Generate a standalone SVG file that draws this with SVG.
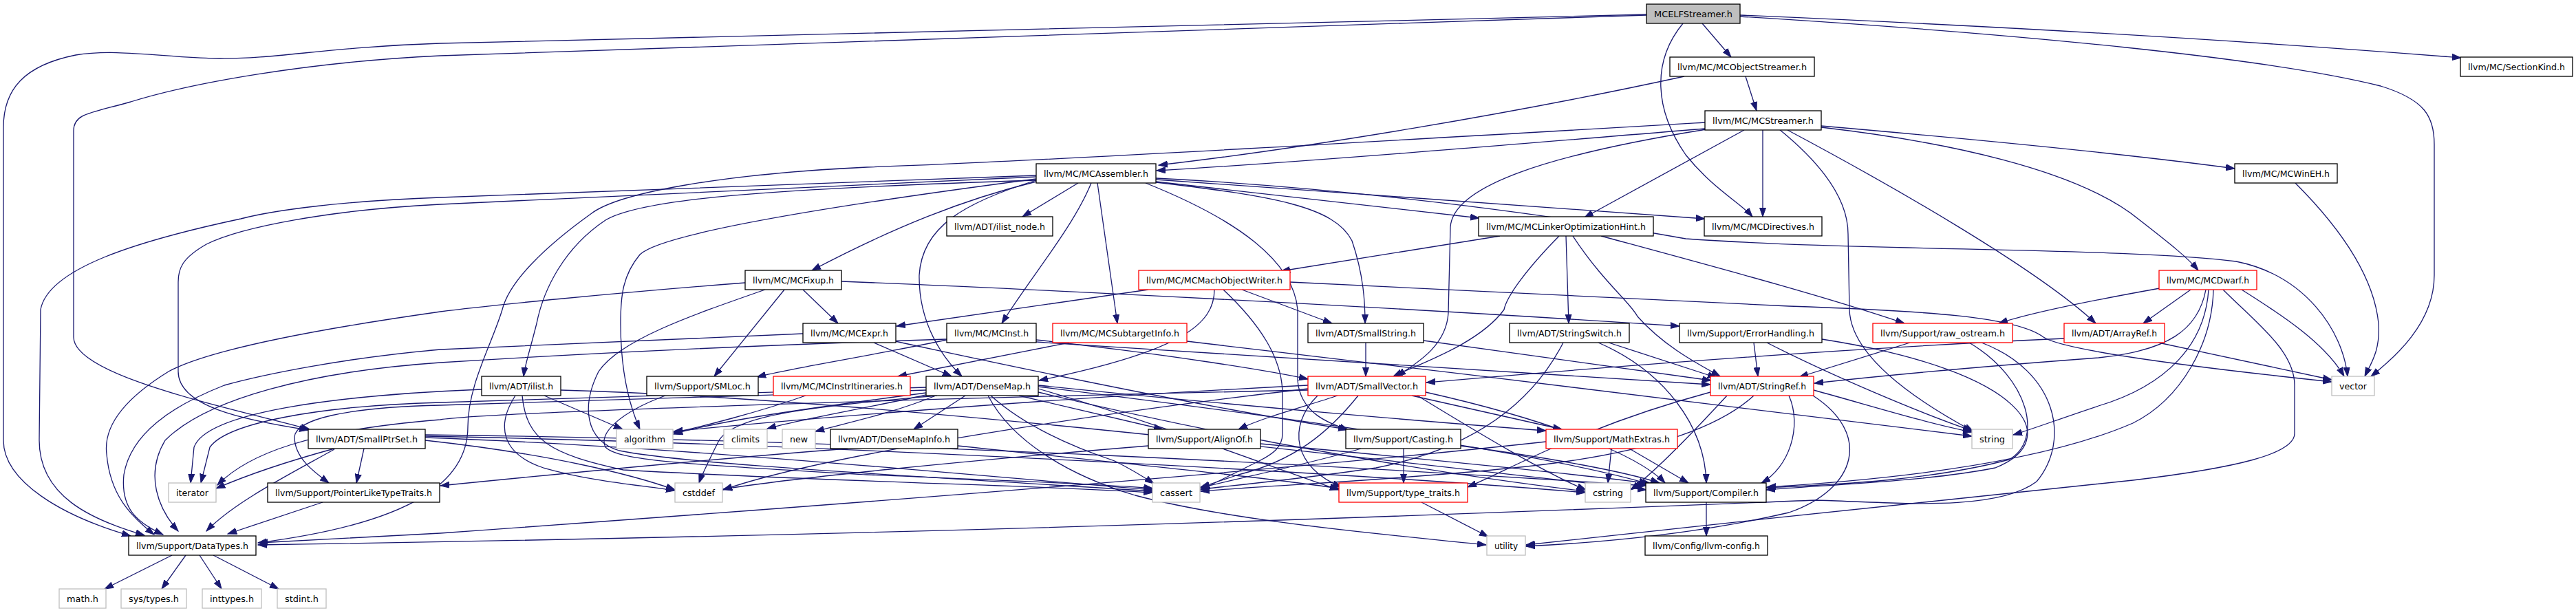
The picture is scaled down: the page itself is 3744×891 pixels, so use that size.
<svg xmlns="http://www.w3.org/2000/svg" width="3744" height="891" viewBox="0 0 3744 891">
<style>
rect{fill:#fff;stroke:#000;stroke-width:1.3}
.r rect{stroke:#f00}
.g rect{stroke:#bfbfbf}
.root rect{fill:#bfbfbf}
text{font-family:"DejaVu Sans","Liberation Sans",sans-serif;font-size:13px;fill:#000;text-anchor:middle}
#edges path{fill:none;stroke:#191970;stroke-width:1.3;marker-end:url(#a)}
</style>
<defs>
<marker id="a" markerUnits="userSpaceOnUse" markerWidth="14" markerHeight="10" refX="13" refY="5" orient="auto" viewBox="0 0 14 10">
<path d="M0,0.5 L13,5 L0,9.5 z" fill="#191970" stroke="#191970" stroke-width="1"/>
</marker>
</defs>
<rect x="0" y="0" width="3744" height="891" style="fill:#fff;stroke:none"/>
<g id="edges">
<path d="M2393,21 C1700,38 900,58 640,63 C480,68 400,86 320,85 C240,84 170,70 110,80 C35,95 5,130 5,185 L5,640 C5,700 90,750 190,779"/>
<path d="M2393,22 C1700,45 900,72 640,81 C450,90 280,120 190,148 C130,165 107,165 107,190 L107,490 C107,545 320,590 450,624"/>
<path d="M2474,34 L2516,83"/>
<path d="M2446,34 C2400,90 2405,160 2450,225 C2490,275 2530,295 2547,315"/>
<path d="M2529,22 C2950,40 3300,62 3577,84"/>
<path d="M2529,24 C2950,50 3300,85 3460,125 C3525,145 3538,170 3538,210 L3538,400 C3538,470 3480,520 3446,547"/>
<path d="M2448,111 C2200,165 1900,215 1684,240"/>
<path d="M2537,111 L2553,161"/>
<path d="M2478,187 C2200,210 1900,235 1681,248"/>
<path d="M2647,183 C2900,205 3100,225 3248,245"/>
<path d="M2535,189 L2303,316"/>
<path d="M2562,188 L2562,315"/>
<path d="M2586,188 C2650,240 2686,290 2686,340 L2688,450 C2690,520 2790,585 2868,627"/>
<path d="M2598,189 C2750,270 2960,390 3046,470"/>
<path d="M2647,185 C2820,205 3020,245 3110,320 C3155,355 3180,375 3195,393"/>
<path d="M2480,188 C2250,225 2112,270 2108,330 L2105,455 C2102,505 2055,530 2030,547"/>
<path d="M2478,178 C2100,200 1500,235 1260,243 C1050,253 900,280 860,310 C790,360 740,410 730,450 C715,500 680,560 680,620 C680,700 600,760 375,789"/>
<path d="M1567,266 L1486,315"/>
<path d="M1506,264 C1400,290 1300,330 1180,393"/>
<path d="M1586,266 C1560,330 1500,400 1456,470"/>
<path d="M1595,266 L1624,470"/>
<path d="M1506,262 C1400,295 1340,330 1336,400 C1335,470 1370,520 1398,547"/>
<path d="M1680,265 C1850,285 1940,300 1965,350 C1982,400 1984,440 1984,470"/>
<path d="M1680,264 L2150,317"/>
<path d="M1680,261 C1950,280 2300,305 2478,318"/>
<path d="M1680,259 C2000,275 2300,320 2450,347 C2700,365 3100,360 3250,380 C3350,400 3405,480 3412,547"/>
<path d="M1665,266 C1800,320 1880,380 1886,450 L1886,553 C1890,600 1930,615 1960,625"/>
<path d="M1506,260 C1200,300 960,340 930,370 C905,400 902,430 902,470 C902,540 915,590 930,624"/>
<path d="M1506,262 C1100,275 930,290 880,320 C820,360 790,420 780,470 C770,510 763,530 761,547"/>
<path d="M1506,255 C1100,270 750,283 640,287 C500,292 400,305 350,318 C200,350 70,390 59,450 L57,640 C57,720 130,755 210,778"/>
<path d="M1506,257 C1100,275 750,292 640,297 C480,305 350,330 300,355 C265,375 259,390 259,410 L259,540 C259,590 350,610 448,625"/>
<path d="M2180,343 L1862,394"/>
<path d="M2266,343 C2220,390 2190,430 2186,450 C2150,500 2060,530 2025,547"/>
<path d="M2276,343 L2280,470"/>
<path d="M2286,343 C2330,410 2370,440 2380,460 C2420,505 2470,530 2500,547"/>
<path d="M2327,343 C2500,390 2650,430 2768,470"/>
<path d="M1669,421 L1303,474"/>
<path d="M1765,421 C1765,470 1720,510 1510,553"/>
<path d="M1805,421 L1936,470"/>
<path d="M1875,410 C2200,425 2480,440 2600,445 C2800,452 2930,460 2970,490 C3000,510 3200,535 3389,555"/>
<path d="M1778,421 C1830,470 1864,520 1864,573 L1864,630 C1864,650 1850,660 1830,670 C1800,685 1770,700 1745,712"/>
<path d="M1167,421 L1218,470"/>
<path d="M1140,421 L1038,547"/>
<path d="M1112,421 C1000,460 900,495 870,540 C845,590 850,640 900,655 C1000,675 1300,690 1675,714"/>
<path d="M1223,409 C1500,420 2000,445 2441,474"/>
<path d="M1083,411 C900,425 700,445 640,453 C450,480 300,510 245,540 C180,580 150,620 155,660 C160,720 190,750 224,777"/>
<path d="M1270,498 L1383,547"/>
<path d="M1301,496 C1550,550 1800,600 1958,624"/>
<path d="M1167,485 C900,495 700,505 640,508 C500,520 380,545 326,560 C250,590 190,630 180,690 C175,740 200,760 237,777"/>
<path d="M1506,494 C1700,515 1850,540 1901,551"/>
<path d="M1506,497 C1900,525 2300,550 2486,559"/>
<path d="M1376,494 C1250,520 1150,535 1100,548"/>
<path d="M1376,493 C1000,505 750,520 640,527 C450,540 300,580 240,640 C210,690 230,740 259,772"/>
<path d="M1554,498 L1305,547"/>
<path d="M1725,496 C2100,540 2600,600 2866,634"/>
<path d="M1985,498 L1985,547"/>
<path d="M2069,495 C2250,520 2400,540 2487,553"/>
<path d="M2338,498 L2495,549"/>
<path d="M2323,498 C2420,540 2478,620 2480,702"/>
<path d="M2272,498 C2230,580 2150,650 2000,680 C1900,695 1800,705 1745,711"/>
<path d="M2549,498 L2555,547"/>
<path d="M2568,498 C2660,545 2790,600 2866,626"/>
<path d="M2648,493 C2950,540 3000,640 2900,680 C2800,700 2650,705 2567,712"/>
<path d="M2776,498 L2615,548"/>
<path d="M2862,498 C2950,550 2970,640 2920,668 C2800,700 2650,705 2567,709"/>
<path d="M2880,498 C2990,540 3010,640 2960,700 C2900,745 2750,730 2640,727 C2300,740 1500,775 375,792"/>
<path d="M3000,492 C2600,510 2200,545 2073,556"/>
<path d="M3137,498 L3389,552"/>
<path d="M3139,419 C3050,435 2950,455 2905,470"/>
<path d="M3184,421 L3115,470"/>
<path d="M3206,421 C3195,480 3150,510 3050,520 C2850,535 2700,550 2637,557"/>
<path d="M3210,421 C3205,500 3150,560 3050,590 C2990,610 2950,625 2926,632"/>
<path d="M3217,421 C3215,500 3170,580 3100,615 C2950,680 2700,700 2568,708"/>
<path d="M3231,421 C3280,470 3335,510 3335,560 L3335,630 C3335,660 3250,680 3100,698 C2900,720 2500,760 2218,792"/>
<path d="M3258,421 C3320,460 3380,500 3407,547"/>
<path d="M3336,266 C3400,330 3450,400 3457,470 C3460,510 3445,530 3437,547"/>
<path d="M700,566 C480,575 300,600 282,650 L277,702"/>
<path d="M791,575 L905,624"/>
<path d="M749,575 C720,620 730,660 790,680 C860,700 930,705 981,713"/>
<path d="M759,575 C765,640 800,660 906,683 C1200,700 1500,705 1675,716"/>
<path d="M815,567 C1300,580 2100,680 2393,712"/>
<path d="M967,575 C900,600 870,630 880,650 C900,670 1000,675 1260,690 C1500,700 1620,705 1676,710"/>
<path d="M1171,575 C1100,600 1020,620 979,629"/>
<path d="M1403,575 L1328,624"/>
<path d="M1481,575 L1690,624"/>
<path d="M1346,571 C1200,590 1050,610 979,631"/>
<path d="M1346,574 C1250,595 1160,610 1115,623"/>
<path d="M1360,575 C1300,600 1230,615 1185,627"/>
<path d="M1362,575 C1200,590 1070,600 1045,640 C1030,670 1020,690 1016,702"/>
<path d="M1346,563 C1000,575 720,583 640,585 C460,590 330,615 305,650 L292,702"/>
<path d="M1346,567 C1000,580 720,588 640,589 C500,592 430,610 428,635 C428,665 455,685 478,702"/>
<path d="M1440,575 C1490,620 1560,650 1620,670 C1650,685 1665,695 1677,703"/>
<path d="M1436,575 C1470,640 1550,690 1650,720 C1800,760 2050,780 2160,792"/>
<path d="M1509,565 C1700,620 1850,680 1946,712"/>
<path d="M1509,570 C1800,640 2100,690 2304,714"/>
<path d="M1509,560 C1800,590 2100,615 2247,626"/>
<path d="M1509,562 C1900,610 2250,660 2395,703"/>
<path d="M1944,575 C1900,590 1840,605 1800,624"/>
<path d="M2052,575 L2270,624"/>
<path d="M1974,575 C1930,630 1880,670 1800,690 C1770,700 1755,705 1745,708"/>
<path d="M1915,575 C1870,620 1880,680 1950,708"/>
<path d="M2072,570 C2250,610 2380,660 2420,702"/>
<path d="M2060,575 C2150,630 2250,690 2305,712"/>
<path d="M1901,560 C1500,580 1100,615 979,627"/>
<path d="M1901,565 C1600,600 1200,660 1051,712"/>
<path d="M1901,567 C1300,580 700,600 640,610 C450,625 360,660 316,705"/>
<path d="M2636,567 C2720,590 2800,615 2866,628"/>
<path d="M2549,575 C2500,620 2400,660 2200,680 C2000,700 1850,705 1745,714"/>
<path d="M2510,575 C2450,640 2400,690 2370,712"/>
<path d="M2635,575 C2720,630 2700,710 2600,745 C2450,780 2300,790 2218,794"/>
<path d="M2600,575 C2620,620 2600,680 2560,702"/>
<path d="M2486,570 C2300,620 2200,680 2133,708"/>
<path d="M1232,652 C1000,670 800,690 640,706"/>
<path d="M1392,648 C1600,670 1850,695 1946,710"/>
<path d="M1832,645 C2050,665 2300,690 2400,703"/>
<path d="M1669,648 C1400,670 1150,695 1051,711"/>
<path d="M2040,652 L2040,702"/>
<path d="M2123,648 C2250,665 2360,685 2412,702"/>
<path d="M1978,652 C1900,675 1800,695 1745,709"/>
<path d="M2342,652 L2337,702"/>
<path d="M2368,652 L2454,702"/>
<path d="M2247,642 C1900,680 1300,728 640,775 L376,789"/>
<path d="M529,652 L518,702"/>
<path d="M486,653 C420,690 340,730 300,772"/>
<path d="M486,652 C420,670 360,690 314,710"/>
<path d="M618,636 C1000,650 1400,690 1675,712"/>
<path d="M618,640 C800,660 920,690 981,712"/>
<path d="M618,634 C1200,645 2000,690 2304,716"/>
<path d="M618,632 C1300,640 2000,680 2392,706"/>
<path d="M469,730 L331,776"/>
<path d="M2066,730 L2163,780"/>
<path d="M2480,730 L2480,779"/>
<path d="M250,807 L152,856"/>
<path d="M270,807 L235,856"/>
<path d="M290,807 L322,856"/>
<path d="M310,807 L405,856"/>
</g>
<g id="n-E" class="root"><rect x="2393" y="6" width="136" height="28"/><text x="2461" y="24.5" textLength="114" lengthAdjust="spacingAndGlyphs">MCELFStreamer.h</text></g>
<g id="n-OS"><rect x="2427" y="83" width="210" height="28"/><text x="2532" y="101.5" textLength="188" lengthAdjust="spacingAndGlyphs">llvm/MC/MCObjectStreamer.h</text></g>
<g id="n-SK"><rect x="3576" y="83" width="163" height="28"/><text x="3657.5" y="101.5" textLength="141" lengthAdjust="spacingAndGlyphs">llvm/MC/SectionKind.h</text></g>
<g id="n-ST"><rect x="2478" y="161" width="169" height="28"/><text x="2562.5" y="179.5" textLength="147" lengthAdjust="spacingAndGlyphs">llvm/MC/MCStreamer.h</text></g>
<g id="n-AS"><rect x="1506" y="238" width="174" height="28"/><text x="1593" y="256.5" textLength="152" lengthAdjust="spacingAndGlyphs">llvm/MC/MCAssembler.h</text></g>
<g id="n-WE"><rect x="3248" y="238" width="149" height="28"/><text x="3322.5" y="256.5" textLength="127" lengthAdjust="spacingAndGlyphs">llvm/MC/MCWinEH.h</text></g>
<g id="n-IN"><rect x="1376" y="315" width="154" height="28"/><text x="1453" y="333.5" textLength="132" lengthAdjust="spacingAndGlyphs">llvm/ADT/ilist_node.h</text></g>
<g id="n-LOH"><rect x="2149" y="315" width="254" height="28"/><text x="2276" y="333.5" textLength="232" lengthAdjust="spacingAndGlyphs">llvm/MC/MCLinkerOptimizationHint.h</text></g>
<g id="n-DIR"><rect x="2477" y="315" width="171" height="28"/><text x="2562.5" y="333.5" textLength="149" lengthAdjust="spacingAndGlyphs">llvm/MC/MCDirectives.h</text></g>
<g id="n-FX"><rect x="1083" y="393" width="140" height="28"/><text x="1153" y="411.5" textLength="118" lengthAdjust="spacingAndGlyphs">llvm/MC/MCFixup.h</text></g>
<g id="n-MOW" class="r"><rect x="1655" y="393" width="220" height="28"/><text x="1765" y="411.5" textLength="198" lengthAdjust="spacingAndGlyphs">llvm/MC/MCMachObjectWriter.h</text></g>
<g id="n-DW" class="r"><rect x="3138" y="393" width="142" height="28"/><text x="3209" y="411.5" textLength="120" lengthAdjust="spacingAndGlyphs">llvm/MC/MCDwarf.h</text></g>
<g id="n-EX"><rect x="1167" y="470" width="135" height="28"/><text x="1234.5" y="488.5" textLength="113" lengthAdjust="spacingAndGlyphs">llvm/MC/MCExpr.h</text></g>
<g id="n-MI"><rect x="1376" y="470" width="130" height="28"/><text x="1441" y="488.5" textLength="108" lengthAdjust="spacingAndGlyphs">llvm/MC/MCInst.h</text></g>
<g id="n-STI" class="r"><rect x="1530" y="470" width="195" height="28"/><text x="1627.5" y="488.5" textLength="173" lengthAdjust="spacingAndGlyphs">llvm/MC/MCSubtargetInfo.h</text></g>
<g id="n-SS"><rect x="1901" y="470" width="168" height="28"/><text x="1985" y="488.5" textLength="146" lengthAdjust="spacingAndGlyphs">llvm/ADT/SmallString.h</text></g>
<g id="n-SW"><rect x="2194" y="470" width="174" height="28"/><text x="2281" y="488.5" textLength="152" lengthAdjust="spacingAndGlyphs">llvm/ADT/StringSwitch.h</text></g>
<g id="n-EH"><rect x="2441" y="470" width="207" height="28"/><text x="2544.5" y="488.5" textLength="185" lengthAdjust="spacingAndGlyphs">llvm/Support/ErrorHandling.h</text></g>
<g id="n-RO" class="r"><rect x="2722" y="470" width="203" height="28"/><text x="2823.5" y="488.5" textLength="181" lengthAdjust="spacingAndGlyphs">llvm/Support/raw_ostream.h</text></g>
<g id="n-AR" class="r"><rect x="3000" y="470" width="146" height="28"/><text x="3073" y="488.5" textLength="124" lengthAdjust="spacingAndGlyphs">llvm/ADT/ArrayRef.h</text></g>
<g id="n-IL"><rect x="700" y="547" width="115" height="28"/><text x="757.5" y="565.5" textLength="93" lengthAdjust="spacingAndGlyphs">llvm/ADT/ilist.h</text></g>
<g id="n-SM"><rect x="940" y="547" width="162" height="28"/><text x="1021" y="565.5" textLength="140" lengthAdjust="spacingAndGlyphs">llvm/Support/SMLoc.h</text></g>
<g id="n-II" class="r"><rect x="1124" y="547" width="199" height="28"/><text x="1223.5" y="565.5" textLength="177" lengthAdjust="spacingAndGlyphs">llvm/MC/MCInstrItineraries.h</text></g>
<g id="n-DM"><rect x="1346" y="547" width="163" height="28"/><text x="1427.5" y="565.5" textLength="141" lengthAdjust="spacingAndGlyphs">llvm/ADT/DenseMap.h</text></g>
<g id="n-SV" class="r"><rect x="1901" y="547" width="171" height="28"/><text x="1986.5" y="565.5" textLength="149" lengthAdjust="spacingAndGlyphs">llvm/ADT/SmallVector.h</text></g>
<g id="n-SR" class="r"><rect x="2486" y="547" width="150" height="28"/><text x="2561" y="565.5" textLength="128" lengthAdjust="spacingAndGlyphs">llvm/ADT/StringRef.h</text></g>
<g id="n-VEC" class="g"><rect x="3389" y="547" width="62" height="28"/><text x="3420" y="565.5" textLength="40" lengthAdjust="spacingAndGlyphs">vector</text></g>
<g id="n-SPS"><rect x="448" y="624" width="170" height="28"/><text x="533" y="642.5" textLength="148" lengthAdjust="spacingAndGlyphs">llvm/ADT/SmallPtrSet.h</text></g>
<g id="n-ALG" class="g"><rect x="896" y="624" width="82" height="28"/><text x="937" y="642.5" textLength="60" lengthAdjust="spacingAndGlyphs">algorithm</text></g>
<g id="n-CL" class="g"><rect x="1052" y="624" width="63" height="28"/><text x="1083.5" y="642.5" textLength="41" lengthAdjust="spacingAndGlyphs">climits</text></g>
<g id="n-NEW" class="g"><rect x="1137" y="624" width="48" height="28"/><text x="1161" y="642.5" textLength="26" lengthAdjust="spacingAndGlyphs">new</text></g>
<g id="n-DMI"><rect x="1207" y="624" width="185" height="28"/><text x="1299.5" y="642.5" textLength="163" lengthAdjust="spacingAndGlyphs">llvm/ADT/DenseMapInfo.h</text></g>
<g id="n-AO"><rect x="1669" y="624" width="163" height="28"/><text x="1750.5" y="642.5" textLength="141" lengthAdjust="spacingAndGlyphs">llvm/Support/AlignOf.h</text></g>
<g id="n-CA"><rect x="1956" y="624" width="167" height="28"/><text x="2039.5" y="642.5" textLength="145" lengthAdjust="spacingAndGlyphs">llvm/Support/Casting.h</text></g>
<g id="n-ME" class="r"><rect x="2247" y="624" width="191" height="28"/><text x="2342.5" y="642.5" textLength="169" lengthAdjust="spacingAndGlyphs">llvm/Support/MathExtras.h</text></g>
<g id="n-STR" class="g"><rect x="2866" y="624" width="59" height="28"/><text x="2895.5" y="642.5" textLength="37" lengthAdjust="spacingAndGlyphs">string</text></g>
<g id="n-IT" class="g"><rect x="245" y="702" width="69" height="28"/><text x="279.5" y="720.5" textLength="47" lengthAdjust="spacingAndGlyphs">iterator</text></g>
<g id="n-PLT"><rect x="389" y="702" width="250" height="28"/><text x="514" y="720.5" textLength="228" lengthAdjust="spacingAndGlyphs">llvm/Support/PointerLikeTypeTraits.h</text></g>
<g id="n-CD" class="g"><rect x="981" y="702" width="69" height="28"/><text x="1015.5" y="720.5" textLength="47" lengthAdjust="spacingAndGlyphs">cstddef</text></g>
<g id="n-CAS" class="g"><rect x="1675" y="702" width="69" height="28"/><text x="1709.5" y="720.5" textLength="47" lengthAdjust="spacingAndGlyphs">cassert</text></g>
<g id="n-TT" class="r"><rect x="1946" y="702" width="187" height="28"/><text x="2039.5" y="720.5" textLength="165" lengthAdjust="spacingAndGlyphs">llvm/Support/type_traits.h</text></g>
<g id="n-CS" class="g"><rect x="2304" y="702" width="66" height="28"/><text x="2337" y="720.5" textLength="44" lengthAdjust="spacingAndGlyphs">cstring</text></g>
<g id="n-CO"><rect x="2392" y="702" width="175" height="28"/><text x="2479.5" y="720.5" textLength="153" lengthAdjust="spacingAndGlyphs">llvm/Support/Compiler.h</text></g>
<g id="n-DT"><rect x="187" y="779" width="185" height="28"/><text x="279.5" y="797.5" textLength="163" lengthAdjust="spacingAndGlyphs">llvm/Support/DataTypes.h</text></g>
<g id="n-UT" class="g"><rect x="2161" y="779" width="56" height="28"/><text x="2189" y="797.5" textLength="34" lengthAdjust="spacingAndGlyphs">utility</text></g>
<g id="n-LC"><rect x="2391" y="779" width="178" height="28"/><text x="2480" y="797.5" textLength="156" lengthAdjust="spacingAndGlyphs">llvm/Config/llvm-config.h</text></g>
<g id="n-MATH" class="g"><rect x="86" y="856" width="68" height="28"/><text x="120" y="874.5" textLength="46" lengthAdjust="spacingAndGlyphs">math.h</text></g>
<g id="n-SYS" class="g"><rect x="176" y="856" width="95" height="28"/><text x="223.5" y="874.5" textLength="73" lengthAdjust="spacingAndGlyphs">sys/types.h</text></g>
<g id="n-INT" class="g"><rect x="294" y="856" width="86" height="28"/><text x="337" y="874.5" textLength="64" lengthAdjust="spacingAndGlyphs">inttypes.h</text></g>
<g id="n-STD" class="g"><rect x="403" y="856" width="71" height="28"/><text x="438.5" y="874.5" textLength="49" lengthAdjust="spacingAndGlyphs">stdint.h</text></g>
</svg>
